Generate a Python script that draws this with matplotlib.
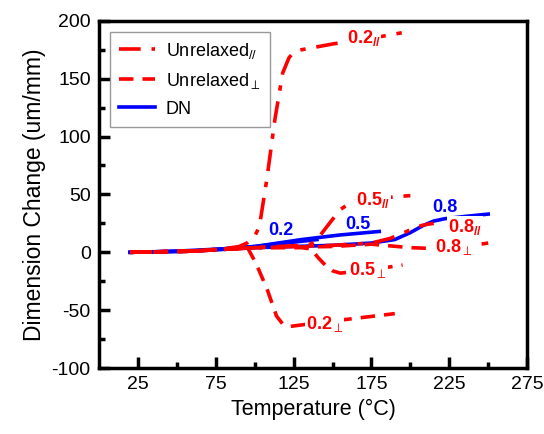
import numpy as np
import matplotlib.pyplot as plt

plt.rcParams['font.family'] = ['Liberation Sans', 'DejaVu Sans']
plt.rcParams['mathtext.fontset'] = 'custom'
plt.rcParams['mathtext.rm'] = 'Liberation Sans'
plt.rcParams['mathtext.bf'] = 'Liberation Sans:bold'
plt.rcParams['axes.unicode_minus'] = False

# Unrelaxed, parallel (dash-dot)
T_par_02 = [20, 40, 60, 80, 90, 95, 100, 103, 108, 113, 118, 122, 125, 130, 150, 175, 200]
V_par_02 = [0, 0.5, 1, 3, 5, 8, 14, 22, 65, 115, 155, 168, 173, 175, 180, 185, 191]
T_par_05 = [20, 60, 100, 130, 136, 140, 148, 155, 163, 175, 191, 200]
V_par_05 = [0, 1, 4, 6, 7, 11, 25, 37, 44, 46, 48, 49]
T_par_08 = [20, 60, 100, 150, 175, 187, 196, 204, 210, 215]
V_par_08 = [0, 1, 4, 6, 8, 12, 17, 22, 24, 25]

# Unrelaxed, perpendicular (dashed)
T_per_02 = [20, 60, 90, 95, 101, 108, 114, 118, 123, 140, 165, 190]
V_per_02 = [0, 1, 4, 5, -10, -32, -55, -62, -64, -61, -57, -53]
T_per_05 = [20, 60, 100, 130, 136, 141, 146, 150, 155, 175, 195]
V_per_05 = [0, 1, 4, 4, 3, -5, -12, -16, -18, -15, -11]
T_per_08 = [20, 60, 100, 150, 175, 200, 220, 235, 250]
V_per_08 = [0, 1, 4, 5, 7, 4, 3, 5, 8]

# DN (solid)
T_dn_02 = [20, 50, 80, 100, 120, 140]
V_dn_02 = [0, 1, 3, 5, 8, 11]
T_dn_05 = [20, 60, 100, 130, 155, 180]
V_dn_05 = [0, 1, 5, 11, 15, 18]
T_dn_08 = [20, 60, 100, 150, 175, 190, 200, 208, 215, 222, 235, 250]
V_dn_08 = [0, 1, 4, 6, 8, 11, 17, 23, 27, 29, 31, 33]

fig, ax = plt.subplots(figsize=(5.44, 4.34), dpi=100)
fig.subplots_adjust(left=0.182, right=0.969, top=0.952, bottom=0.152)

lw = 2.6
red_dd = dict(color='red', lw=lw, dashes=(6, 3, 1.5, 3))
red_d = dict(color='red', lw=lw, dashes=(4, 2.5))

ax.plot(T_dn_02, V_dn_02, color='blue', lw=lw)
ax.plot(T_dn_05, V_dn_05, color='blue', lw=lw)
ax.plot(T_dn_08, V_dn_08, color='blue', lw=lw)
ax.plot(T_par_02, V_par_02, **red_dd, label=r'Unrelaxed$_{//}$')
ax.plot(T_par_05, V_par_05, **red_dd)
ax.plot(T_par_08, V_par_08, **red_dd)
ax.plot(T_per_02, V_per_02, **red_d, label=r'Unrelaxed$_{\perp}$')
ax.plot(T_per_05, V_per_05, **red_d)
ax.plot(T_per_08, V_per_08, **red_d)
ax.plot([], [], color='blue', lw=lw, label='DN')

lab_kw = dict(fontsize=13, fontweight='bold', ha='center', va='center',
              bbox=dict(facecolor='white', edgecolor='none', pad=0.5))
ax.text(170, 185, r'0.2$_{\mathbf{//}}$', color='red', **lab_kw)
ax.text(176, 45, r'0.5$_{\mathbf{//}}$', color='red', **lab_kw)
ax.text(235, 22, r'0.8$_{\mathbf{//}}$', color='red', **lab_kw)
ax.text(145, -62, r'0.2$_{\perp}$', color='red', **lab_kw)
ax.text(173, -15, r'0.5$_{\perp}$', color='red', **lab_kw)
ax.text(228, 5, r'0.8$_{\perp}$', color='red', **lab_kw)
ax.text(117, 19, '0.2', color='blue', fontsize=13, fontweight='bold', ha='center', va='center')
ax.text(166, 24, '0.5', color='blue', fontsize=13, fontweight='bold', ha='center', va='center')
ax.text(222, 39, '0.8', color='blue', fontsize=13, fontweight='bold', ha='center', va='center')

ax.set_xlim(0, 275)
ax.set_ylim(-100, 200)
ax.set_xticks([25, 75, 125, 175, 225, 275])
ax.set_xticks([50, 100, 150, 200, 250], minor=True)
ax.set_yticks([-100, -50, 0, 50, 100, 150, 200])
ax.set_yticks([-75, -25, 25, 75, 125, 175], minor=True)
ax.tick_params(which='major', direction='in', length=8, width=2.5, labelsize=14,
               top=False, right=False, pad=6)
ax.tick_params(which='minor', direction='in', length=4.5, width=2.5, top=False, right=False)
for s in ax.spines.values():
    s.set_linewidth(2.5)

ax.set_xlabel('Temperature (\u00b0C)', fontsize=15.5)
ax.set_ylabel('Dimension Change (um/mm)', fontsize=16.5)

leg = ax.legend(loc='upper left', fontsize=13, handlelength=2.0, frameon=True,
                fancybox=False, edgecolor='gray', borderaxespad=0.6, labelspacing=0.55,
                borderpad=0.5, handletextpad=0.6)
leg.get_frame().set_linewidth(1)

fig.savefig('out.png', dpi=100)
